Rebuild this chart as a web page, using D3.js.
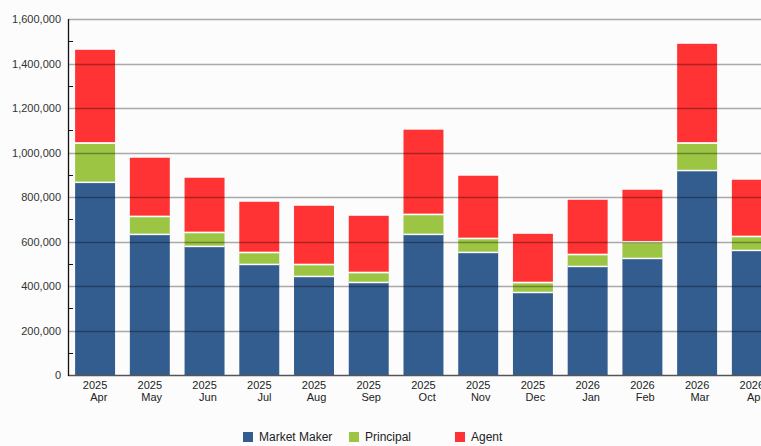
<!DOCTYPE html>
<html><head><meta charset="utf-8">
<script src="https://cdn.jsdelivr.net/npm/d3@7"></script>
<style>body{margin:0;background:#fcfcfc;}svg{display:block;font-family:"Liberation Sans",Arial,sans-serif;}</style>
</head><body>
<svg id="c" width="761" height="446"></svg>
<script>
const years = ["2025","2025","2025","2025","2025","2025","2025","2025","2025","2026","2026","2026","2026"];
const months = ["Apr","May","Jun","Jul","Aug","Sep","Oct","Nov","Dec","Jan","Feb","Mar","Apr"];
const marketMaker = [867000,633000,579000,498000,444000,417000,633000,552000,372000,489000,525000,920000,561000];
const principal   = [177000,81000,63000,54000,54000,45000,90000,63000,45000,54000,75000,124000,63000];
const agent       = [422000,267000,249000,231000,267000,258000,384000,285000,222000,249000,237000,449000,258000];
const seriesNames = ["Market Maker","Principal","Agent"];
const seriesColors = ["#335d8f","#9dc544","#ff3333"];
const yTicks = [0,200000,400000,600000,800000,1000000,1200000,1400000,1600000];
const yMinor = [100000,300000,500000,700000,900000,1100000,1300000,1500000];

const svg = d3.select("#c");
const keys = months.map((m,i)=>i);
const step = 54.73;
const x = d3.scaleBand().domain(keys).range([68, 68 + step*(13 - 0.27 + 0.26)]).paddingInner(0.27).paddingOuter(0.13);
const y = d3.scaleLinear().domain([0,1600000]).range([375,19]);

const rows = keys.map(i=>({i, "Market Maker":marketMaker[i], "Principal":principal[i], "Agent":agent[i]}));
const stack = d3.stack().keys(seriesNames)(rows);

// bars
const g = svg.append("g");
stack.forEach((s,si)=>{
  g.selectAll(null).data(s).enter().append("rect")
    .attr("x", d=>x(d.data.i))
    .attr("width", x.bandwidth())
    .attr("y", d=>y(d[1]) + (si>0?1:0))
    .attr("height", d=>Math.max(0, y(d[0]) - y(d[1]) - (si>0?1:0)))
    .attr("fill", seriesColors[si]);
});
// white separators at top of lower segments
stack.slice(0,2).forEach(s=>{
  g.selectAll(null).data(s).enter().append("rect")
    .attr("x", d=>x(d.data.i)).attr("width", x.bandwidth())
    .attr("y", d=>y(d[1])-0.5).attr("height",1.5).attr("fill","#fff");
});

// gridlines on top
svg.append("g").selectAll("line").data(yTicks.slice(1)).enter().append("line")
  .attr("x1",68).attr("x2",761).attr("y1",d=>Math.round(y(d))+0.5).attr("y2",d=>Math.round(y(d))+0.5)
  .attr("stroke","#000").attr("stroke-opacity",0.33).attr("stroke-width",1.6);

// x baseline
svg.append("line").attr("x1",68).attr("x2",761).attr("y1",y(0)+0.5).attr("y2",y(0)+0.5)
  .attr("stroke","#555").attr("stroke-width",1.6);

// y axis
const ya = svg.append("g");
ya.append("line").attr("x1",68.5).attr("x2",68.5).attr("y1",y(1600000)).attr("y2",y(0)+1)
  .attr("stroke","#111").attr("stroke-width",1.3);
ya.selectAll(".mt").data(yMinor).enter().append("line")
  .attr("x1",68).attr("x2",73).attr("y1",d=>Math.round(y(d))+0.5).attr("y2",d=>Math.round(y(d))+0.5)
  .attr("stroke","#111").attr("stroke-width",1);
ya.selectAll("text").data(yTicks).enter().append("text")
  .attr("x",61).attr("y",d=>y(d)+4).attr("text-anchor","end")
  .attr("font-size",11).attr("fill","#333").text(d=>d3.format(",")(d));

// x labels
const xl = svg.append("g");
keys.forEach(i=>{
  const cx = x(i) + x.bandwidth()/2;
  const t1 = xl.append("text").attr("x",cx).attr("y",389).attr("text-anchor","middle")
    .attr("font-size",11).attr("fill","#222").text(years[i]);
  const w = t1.node().getComputedTextLength();
  xl.append("text").attr("x",cx + w/2).attr("y",401).attr("text-anchor","end")
    .attr("font-size",11).attr("fill","#222").text(months[i]);
});

// legend
const legX = [243, 349, 455];
seriesNames.forEach((n,i)=>{
  svg.append("rect").attr("x",legX[i]).attr("y",432).attr("width",10).attr("height",10).attr("fill",seriesColors[i]);
  svg.append("text").attr("x",legX[i]+16).attr("y",441).attr("font-size",12).attr("fill","#222").text(n);
});
</script>
</body></html>
